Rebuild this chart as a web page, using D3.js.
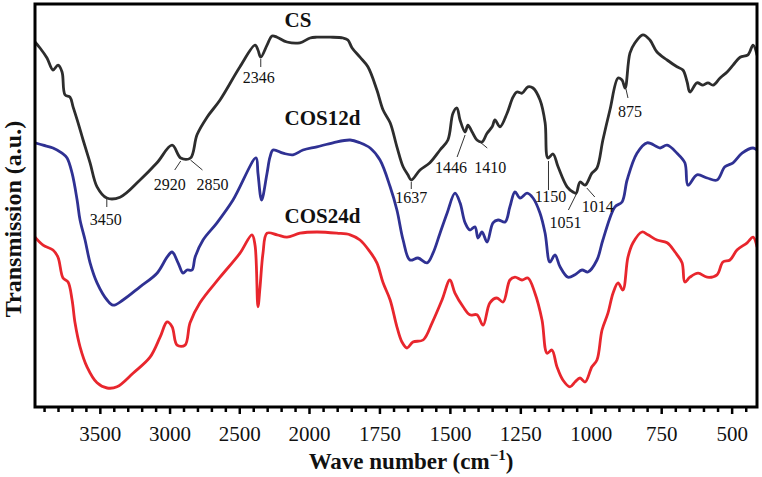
<!DOCTYPE html>
<html><head><meta charset="utf-8">
<script src="https://cdn.jsdelivr.net/npm/d3@7"></script>
<style>body{margin:0;background:#fff} svg{display:block}</style>
</head><body><svg id="chart" width="762" height="477"></svg>
<script>
// ---------- data (wavenumber cm-1, transmission a.u.) ----------
const seriesNames = ["CS", "COS12d", "COS24d"];
const seriesColors = ["#2d2d2d", "#2f3193", "#e8262d"];

const csData = [
[3965,91.0],[3929,89.5],[3879,87.0],[3836,84.0],[3800,85.2],[3771,83.5],[3750,77.8],[3714,77.2],[3692,74.8],
[3656,70.8],[3620,66.5],[3570,60.8],[3520,54.8],[3450,52.0],[3355,52.2],[3212,56.5],[3090,60.8],[2982,65.2],
[2920,62.0],[2850,62.0],[2803,67.8],[2731,72.2],[2638,76.5],[2495,84.8],[2387,90.2],[2366,89.0],[2346,87.2],
[2301,90.2],[2265,92.5],[2229,92.2],[2158,91.0],[2065,90.8],[1996,92.0],[1972,92.2],[1925,92.2],[1879,92.0],
[1862,91.5],[1847,89.5],[1819,87.2],[1791,84.8],[1759,79.0],[1737,74.0],[1712,70.8],[1688,64.8],[1666,59.8],
[1649,57.8],[1637,56.5],[1606,59.0],[1571,60.8],[1535,64.0],[1507,66.5],[1489,73.2],[1475,74.5],[1464,71.5],
[1446,68.5],[1436,70.2],[1421,68.5],[1404,66.5],[1386,66.0],[1368,68.2],[1350,69.8],[1340,71.5],[1322,69.8],
[1297,73.2],[1276,77.2],[1262,78.5],[1244,78.2],[1223,79.8],[1205,79.5],[1180,76.5],[1162,70.8],[1152,62.0],
[1134,63.0],[1116,59.8],[1084,54.8],[1063,53.5],[1052,53.2],[1038,56.0],[1020,55.2],[996,58.2],[978,59.5],
[957,66.5],[932,74.0],[903,82.0],[889,81.5],[878,79.5],[861,88.2],[843,90.8],[815,92.8],[790,91.5],[765,88.5],
[729,86.5],[694,84.8],[673,84.0],[658,81.0],[648,78.5],[623,80.8],[602,80.2],[584,80.8],[566,80.2],[541,82.0],
[516,83.5],[495,85.2],[470,87.2],[442,87.8],[424,90.2],[410,87.8]
];

const cos12Data = [
[3965,65.8],[3907,65.2],[3836,64.5],[3771,63.2],[3735,62.0],[3699,58.2],[3663,51.5],[3642,46.5],[3606,41.5],
[3570,35.8],[3520,30.8],[3448,26.5],[3405,25.2],[3334,26.5],[3212,29.8],[3090,33.2],[3018,37.2],[2982,38.5],
[2939,35.8],[2903,33.2],[2875,34.0],[2839,34.0],[2817,37.2],[2760,41.5],[2660,45.8],[2545,51.5],[2380,62.0],
[2366,58.2],[2340,51.5],[2301,58.2],[2280,62.2],[2258,64.0],[2186,63.2],[2115,62.8],[2043,64.0],[1972,64.8],
[1915,65.8],[1854,66.5],[1819,65.8],[1783,64.5],[1748,61.5],[1712,54.8],[1688,49.0],[1666,41.5],[1642,36.5],
[1613,37.0],[1581,35.8],[1560,38.2],[1535,43.2],[1510,48.2],[1482,53.2],[1464,50.8],[1446,45.8],[1429,44.0],
[1411,44.8],[1400,42.0],[1386,43.5],[1368,41.0],[1347,45.8],[1329,46.5],[1304,46.0],[1287,49.8],[1269,53.5],
[1251,52.0],[1226,53.2],[1205,52.0],[1180,48.2],[1162,43.2],[1145,36.0],[1127,37.8],[1109,34.8],[1081,32.2],
[1056,32.8],[1031,34.0],[1010,33.5],[978,36.5],[957,41.5],[914,49.8],[889,51.0],[871,56.5],[836,63.2],
[800,65.8],[765,64.8],[754,64.5],[729,65.2],[694,63.2],[666,60.8],[655,55.2],[623,57.8],[587,57.0],[552,56.5],
[524,59.8],[495,60.8],[463,63.2],[424,64.5],[410,64.0]
];

const cos24Data = [
[3965,42.2],[3907,40.2],[3836,39.0],[3800,37.2],[3764,32.0],[3728,31.0],[3699,26.5],[3678,20.8],[3642,14.8],
[3592,9.8],[3520,5.8],[3448,4.5],[3377,4.8],[3262,8.2],[3140,12.2],[3068,17.2],[3018,21.0],[2982,19.8],
[2946,15.2],[2889,15.2],[2853,20.8],[2782,25.8],[2638,32.2],[2495,38.2],[2409,42.8],[2387,40.2],[2366,24.8],
[2351,29.8],[2330,38.2],[2301,43.2],[2229,42.8],[2158,42.2],[2065,43.2],[1972,43.5],[1901,43.2],[1854,42.8],
[1819,41.5],[1783,38.5],[1759,35.8],[1737,30.8],[1712,26.5],[1688,19.8],[1670,16.0],[1652,14.5],[1631,16.0],
[1595,16.5],[1563,20.8],[1528,26.5],[1500,31.5],[1482,28.2],[1453,24.8],[1429,22.8],[1404,22.8],[1382,20.2],
[1358,25.8],[1333,27.0],[1311,26.0],[1287,31.5],[1269,32.2],[1244,31.5],[1223,32.0],[1198,28.2],[1173,21.5],
[1155,13.2],[1138,14.0],[1120,9.8],[1099,6.5],[1074,4.8],[1056,6.0],[1038,7.0],[1020,6.0],[996,9.8],[978,11.5],
[960,19.0],[939,23.2],[921,28.2],[903,30.8],[886,29.0],[868,37.2],[850,40.8],[818,43.5],[797,42.8],[765,41.5],
[729,40.8],[701,38.5],[676,35.8],[666,31.0],[648,32.2],[619,33.2],[587,32.2],[552,32.8],[531,36.0],[506,36.5],
[481,39.0],[445,40.8],[424,42.2],[410,39.8]
];

const seriesLabelPos = [[2175,94.75],[2175,70.25],[2175,45.75]];

const majorTicks = [3500,3000,2500,2000,1750,1500,1250,1000,750,500];

// peak annotations on CS: wavenumber, transmission at the anchor, offsets
const peakLabels = ["3450","2920","2850","2346","1637","1446","1410","1150","1051","1014","875"];
const peakValues = [52.0,61.5,61.75,87.0,56.25,68.0,67.25,61.5,53.25,54.75,79.5];
const peakLayout = [
 {lx:0,ly:9,tx:-1,ty:27},{lx:-6,ly:10,tx:-11,ty:30},{lx:12,ly:11,tx:22,ty:31},{lx:0,ly:9,tx:-2,ty:25},
 {lx:0,ly:8,tx:0,ty:22},{lx:-8,ly:23,tx:-14,ty:39},{lx:12,ly:11,tx:15,ty:36},{lx:0,ly:30,tx:2,ty:42},
 {lx:-8,ly:17,tx:-11,ty:35},{lx:8,ly:10,tx:11,ty:25},{lx:2,ly:10,tx:4,ty:29}
];

// ---------- drawing ----------
const serif = "'Liberation Serif','Times New Roman',serif";
const svg = d3.select("#chart");
const L = 35, T = 4, R = 757, B = 407;

const x = d3.scaleLinear().domain([3965, 2000, 410]).range([L, 309, R]);
const y = d3.scaleLinear().domain([0, 100]).range([406, 6]);

svg.append("defs").append("clipPath").attr("id","clip")
  .append("rect").attr("x",L).attr("y",T).attr("width",R-L).attr("height",B-T);

const line = d3.line().x(d => x(d[0])).y(d => y(d[1])).curve(d3.curveCatmullRom.alpha(0.5));
const allData = [csData, cos12Data, cos24Data];
const g = svg.append("g").attr("clip-path","url(#clip)");
allData.forEach((d,i) => {
  g.append("path").datum(d).attr("d", line)
    .attr("fill","none").attr("stroke", seriesColors[i])
    .attr("stroke-width", 2.8).attr("stroke-linejoin","round").attr("stroke-linecap","round");
});

// series labels
seriesNames.forEach((n,i) => {
  svg.append("text").attr("x", x(seriesLabelPos[i][0])).attr("y", y(seriesLabelPos[i][1]))
    .attr("font-family", serif).attr("font-weight","bold").attr("font-size", 21)
    .attr("fill","#111").text(n);
});

// annotations
peakLabels.forEach((lab,i) => {
  const ax = x(+lab), ay = y(peakValues[i]), p = peakLayout[i];
  svg.append("line").attr("x1",ax).attr("y1",ay+1).attr("x2",ax+p.lx).attr("y2",ay+p.ly)
    .attr("stroke","#333").attr("stroke-width",1);
  svg.append("text").attr("x",ax+p.tx).attr("y",ay+p.ty).attr("text-anchor","middle")
    .attr("font-family",serif).attr("font-size",16).attr("fill","#111").text(lab);
});

// x axis ticks
const minorTicks = d3.range(3900, 2000, -100).concat(d3.range(1950, 440, -50))
  .filter(v => !majorTicks.includes(v));
const ax1 = svg.append("g").attr("transform",`translate(0,${B})`)
  .call(d3.axisBottom(x).tickValues(majorTicks).tickSize(7).tickPadding(12).tickFormat(d3.format("d")));
const ax2 = svg.append("g").attr("transform",`translate(0,${B})`)
  .call(d3.axisBottom(x).tickValues(minorTicks).tickSize(5).tickFormat(""));
[ax1, ax2].forEach(a => {
  a.select(".domain").remove();
  a.selectAll(".tick line").attr("stroke","#000").attr("stroke-width",2.5);
});
ax1.selectAll(".tick text").attr("font-family",serif).attr("font-size",21).attr("fill","#111");

// frame
svg.append("rect").attr("x",L).attr("y",T).attr("width",R-L).attr("height",B-T)
  .attr("fill","none").attr("stroke","#000").attr("stroke-width",3);

// axis titles
const xt = svg.append("text").attr("x", 411).attr("y", 469).attr("text-anchor","middle")
  .attr("font-family",serif).attr("font-weight","bold").attr("font-size",23).attr("fill","#111");
xt.append("tspan").text("Wave number (cm");
xt.append("tspan").attr("font-size",15).attr("dy",-9).text("\u22121");
xt.append("tspan").attr("dy",9).text(")");

svg.append("text").attr("transform","translate(21,219) rotate(-90)").attr("text-anchor","middle")
  .attr("font-family",serif).attr("font-weight","bold").attr("font-size",24).attr("fill","#111")
  .text("Transmission (a.u.)");
</script></body></html>
